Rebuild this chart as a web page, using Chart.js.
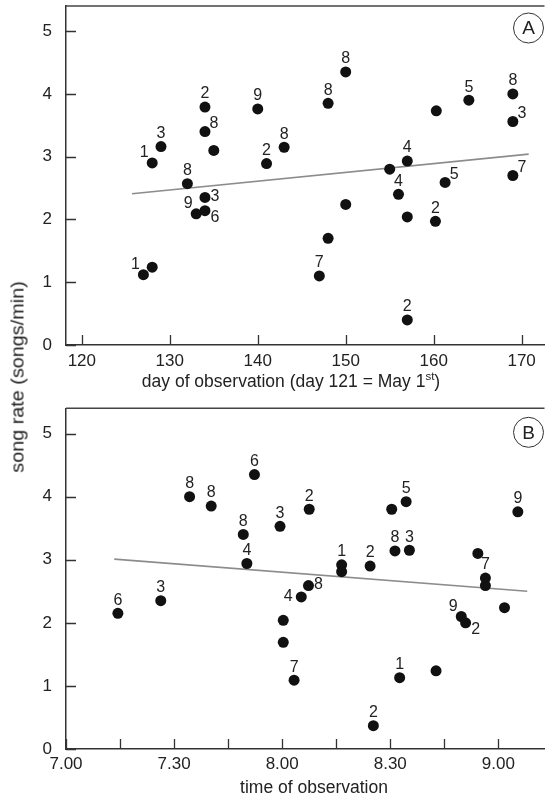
<!DOCTYPE html>
<html>
<head>
<meta charset="utf-8">
<script src="https://cdn.jsdelivr.net/npm/chart.js@4/dist/chart.umd.min.js"></script>
<style>
  body { margin: 0; background: #fff; }
  #wrap { position: relative; width: 550px; height: 799px; overflow: hidden; }
  canvas { position: absolute; left: 0; }
  #chartA { top: 0; }
  #chartB { top: 400px; }
  #ytitle {
    position: absolute; left: 17.5px; top: 377px;
    transform: translate(-50%, -50%) rotate(-90deg) scaleX(1.1);
    font: 18px "Liberation Sans", Arial, sans-serif; color: #222; white-space: nowrap;
  }
</style>
</head>
<body>
<div id="wrap">
  <canvas id="chartA" width="550" height="400"></canvas>
  <canvas id="chartB" width="550" height="399"></canvas>
  <div id="ytitle">song rate (songs/min)</div>
</div>
<script>
// panel A: song rate by day of observation
const dayA = [128, 129, 134, 134, 135, 140, 143, 141, 132, 134, 134, 133, 127, 128, 150, 148,
  160.3, 164, 169, 169, 157, 155, 169, 161.3, 156, 150, 157, 160.2, 148, 147, 157];
const rateA = [2.90, 3.16, 3.79, 3.40, 3.10, 3.76, 3.15, 2.89, 2.57, 2.35, 2.14, 2.09, 1.12, 1.24, 4.35, 3.85,
  3.73, 3.90, 4.00, 3.56, 2.93, 2.80, 2.70, 2.59, 2.40, 2.24, 2.04, 1.97, 1.70, 1.10, 0.40];
const birdA = ['1', '3', '2', '8', '', '9', '8', '2', '8', '3', '6', '9', '1', '', '8', '8',
  '', '5', '8', '3', '4', '', '7', '5', '4', '', '', '2', '', '7', '2'];
const fitDayA = [125.7, 170.8];
const fitRateA = [2.41, 3.04];

// panel B: song rate by time of observation (minutes after 7.00)
const minuteB = [34.3, 40.3, 52.3, 49.2, 59.4, 50.2, 67.5, 26.3, 14.4, 90.4, 94.4, 125.4, 91.3, 95.3, 76.5, 76.5,
  84.4, 114.3, 116.4, 116.4, 67.3, 65.3, 60.3, 60.3, 63.3, 109.7, 110.9, 121.7, 92.6, 102.7, 85.3];
const rateB = [4.00, 3.85, 4.35, 3.40, 3.53, 2.94, 3.80, 2.35, 2.15, 3.80, 3.92, 3.76, 3.14, 3.15, 2.92, 2.81,
  2.90, 3.10, 2.71, 2.59, 2.59, 2.41, 2.04, 1.69, 1.09, 2.10, 2.00, 2.24, 1.13, 1.24, 0.37];
const birdB = ['8', '8', '6', '8', '3', '4', '2', '3', '6', '', '5', '9', '8', '3', '1', '',
  '2', '', '7', '', '8', '4', '', '', '7', '9', '2', '', '1', '', '2'];
const fitMinuteB = [13.4, 128];
const fitRateB = [3.01, 2.50];

const timeTicks = ['7.00', '7.30', '8.00', '8.30', '9.00'];
const rateTicks = [0, 1, 2, 3, 4, 5];

// where each bird number sits next to its dot
const spotA = ['tl', 't', 't', 'tr', '', 't', 't', 't', 't', 'r', 'br', 'tl', 'tl', '', 't', 't',
  '', 't', 't', 'tr', 't', '', 'tr', 'tr', 't', '', '', 't', '', 't', 't'];
const spotB = ['t', 't', 't', 't', 't', 't', 't', 't', 't', '', 't', 't', 't', 't', 't', '',
  't', '', 't', '', 'r', 'l', '', '', 't', 'tl', 'br', '', 't', '', 't'];
const spotOffset = { t: [0, -13], tr: [9, -8], tl: [-8, -10], r: [10, -1], br: [10, 7], l: [-13, 0] };

const FONT = '"Liberation Sans", Arial, sans-serif';
const INK = '#222';

function pairs(xs, ys) {
  return xs.map(function (x, i) { return { x: x, y: ys[i] }; });
}

const panelDecor = {
  id: 'panelDecor',
  afterDraw: function (chart, args, opts) {
    const ctx = chart.ctx;
    const area = chart.chartArea;
    const xs = chart.scales.x;
    const ys = chart.scales.y;
    ctx.save();

    // top frame line
    ctx.strokeStyle = '#444';
    ctx.lineWidth = 1.5;
    ctx.beginPath();
    ctx.moveTo(area.left, area.top);
    ctx.lineTo(area.right, area.top);
    ctx.stroke();

    // inward tick marks
    ctx.strokeStyle = '#333';
    ctx.lineWidth = 1.3;
    ctx.beginPath();
    xs.ticks.forEach(function (t) {
      const px = Math.round(xs.getPixelForValue(t.value)) + 0.5;
      ctx.moveTo(px, area.bottom);
      ctx.lineTo(px, area.bottom - 10);
    });
    ys.ticks.forEach(function (t) {
      const py = Math.round(ys.getPixelForValue(t.value)) + 0.5;
      ctx.moveTo(area.left, py);
      ctx.lineTo(area.left + 10, py);
    });
    ctx.stroke();

    // bird numbers
    const meta = chart.getDatasetMeta(0);
    ctx.fillStyle = INK;
    ctx.font = '16px ' + FONT;
    ctx.textAlign = 'center';
    ctx.textBaseline = 'middle';
    meta.data.forEach(function (pt, i) {
      const txt = opts.labels[i];
      if (!txt) return;
      const off = spotOffset[opts.spots[i]];
      ctx.fillText(txt, pt.x + off[0], pt.y + off[1]);
    });

    // panel letter in a circle
    const cx = area.right - 16;
    const cy = area.top + opts.letterDy;
    ctx.strokeStyle = '#333';
    ctx.lineWidth = 1;
    ctx.beginPath();
    ctx.arc(cx, cy, 15, 0, Math.PI * 2);
    ctx.stroke();
    ctx.font = '19px ' + FONT;
    ctx.fillText(opts.letter, cx, cy + 1);

    // x axis title (with optional superscript part)
    const big = '17.5px ' + FONT;
    const small = '11.5px ' + FONT;
    ctx.textAlign = 'left';
    ctx.textBaseline = 'middle';
    const parts = opts.title;
    let total = 0;
    parts.forEach(function (p) {
      ctx.font = p.sup ? small : big;
      total += ctx.measureText(p.text).width;
    });
    let x = area.left + opts.titleDx - total / 2;
    const y = area.bottom + opts.titleDy;
    parts.forEach(function (p) {
      ctx.font = p.sup ? small : big;
      ctx.fillText(p.text, x, p.sup ? y - 5 : y);
      x += ctx.measureText(p.text).width;
    });

    ctx.restore();
  }
};

function noPad(s) {
  s.paddingTop = 0;
  s.paddingBottom = 0;
  s.paddingLeft = 0;
  s.paddingRight = 0;
}

function makePanel(id, points, fit, xOpts, decor, padTop, xHeight) {
  const ctx = document.getElementById(id).getContext('2d');
  return new Chart(ctx, {
    type: 'scatter',
    data: {
      datasets: [{
        data: points,
        backgroundColor: '#111',
        borderWidth: 0,
        pointRadius: 5.5,
        pointHoverRadius: 5.5,
        order: 1
      }, {
        data: fit,
        showLine: true,
        borderColor: '#8c8c8c',
        borderWidth: 1.6,
        pointRadius: 0,
        order: 2
      }]
    },
    options: {
      responsive: false,
      devicePixelRatio: 1,
      animation: false,
      layout: { padding: { top: padTop, left: 0, right: 0, bottom: 0 } },
      plugins: { legend: { display: false }, tooltip: { enabled: false }, panelDecor: decor },
      scales: {
        x: Object.assign({
          type: 'linear',
          grid: { display: false, drawTicks: false },
          border: { display: true, color: '#333', width: 1.5 },
          afterFit: function (s) { s.height = xHeight; noPad(s); }
        }, xOpts),
        y: {
          type: 'linear',
          min: 0,
          max: 5.4,
          grid: { display: false, drawTicks: false },
          border: { display: true, color: '#333', width: 1.5 },
          ticks: {
            stepSize: 1,
            includeBounds: false,
            padding: 14,
            color: INK,
            font: { family: FONT, size: 17 },
            callback: function (v) { return rateTicks.indexOf(v) >= 0 ? String(v) : ''; }
          },
          afterFit: function (s) { s.width = 66; noPad(s); }
        }
      }
    },
    plugins: [panelDecor]
  });
}

makePanel('chartA', pairs(dayA, rateA), pairs(fitDayA, fitRateA), {
  min: 118.2,
  max: 172.6,
  ticks: {
    stepSize: 10, includeBounds: false, autoSkip: false, maxRotation: 0,
    padding: 6, color: INK, font: { family: FONT, size: 17 }
  }
}, {
  letter: 'A', letterDy: 22, labels: birdA, spots: spotA, titleDx: 225, titleDy: 37,
  title: [{ text: 'day of observation (day 121 = May 1' }, { text: 'st', sup: true }, { text: ')' }]
}, 6, 55);

makePanel('chartB', pairs(minuteB, rateB), pairs(fitMinuteB, fitRateB), {
  min: 0,
  max: 132.8,
  ticks: {
    stepSize: 15, includeBounds: false, autoSkip: false, maxRotation: 0,
    padding: 5, color: INK, font: { family: FONT, size: 17 },
    callback: function (v) { return v % 30 === 0 ? timeTicks[v / 30] : ''; }
  }
}, {
  letter: 'B', letterDy: 24, labels: birdB, spots: spotB, titleDx: 248, titleDy: 39,
  title: [{ text: 'time of observation' }]
}, 8.3, 50);
</script>
</body>
</html>
